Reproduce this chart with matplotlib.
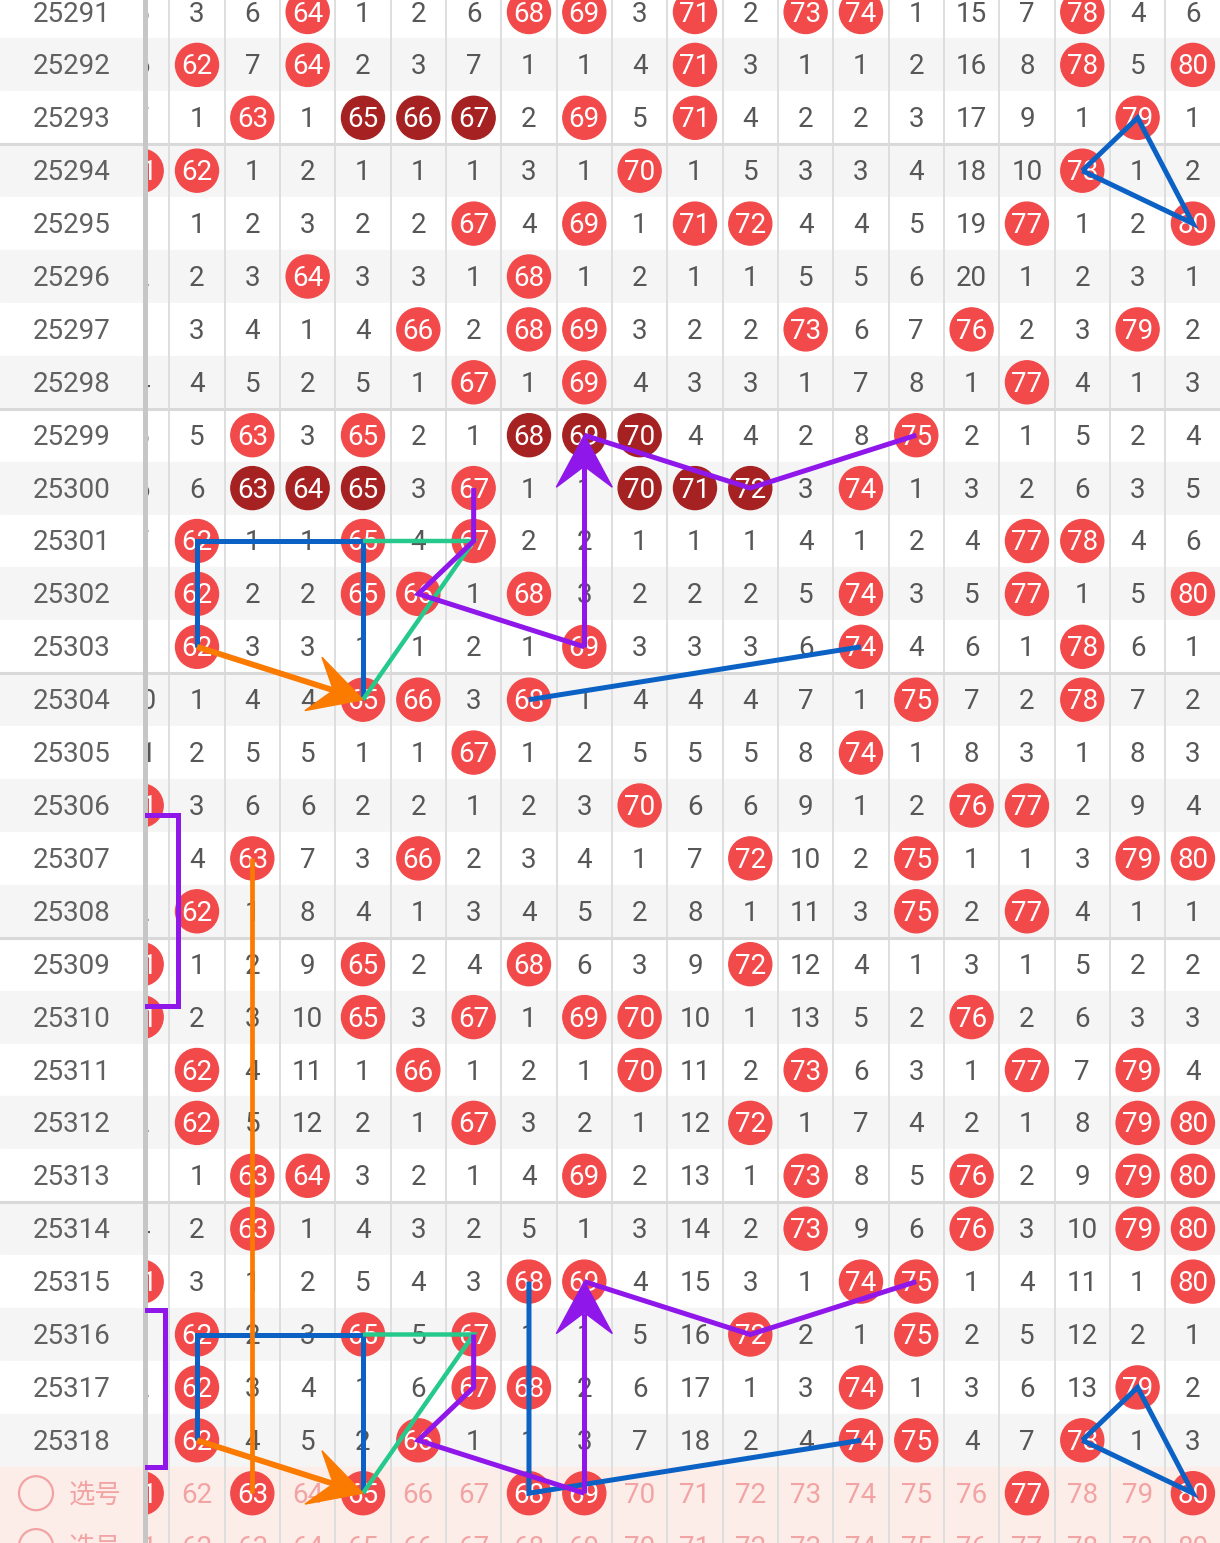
import numpy as np
import matplotlib.pyplot as plt
from matplotlib.patches import Circle, Rectangle, Polygon

plt.rcParams['font.family'] = ['Roboto', 'Noto Sans CJK SC', 'DejaVu Sans']

# ---- data -------------------------------------------------------------
issues = [str(n) for n in range(25291, 25319)]
numbers = list(range(61, 81))
pick_label = "选号"

# omission counts per issue for numbers 61..80, 0 = drawn (red ball)
misses = [
    [5, 3, 6, 0, 1, 2, 6, 0, 0, 3, 0, 2, 0, 0, 1, 15, 7, 0, 4, 6],    # 25291
    [6, 0, 7, 0, 2, 3, 7, 1, 1, 4, 0, 3, 1, 1, 2, 16, 8, 0, 5, 0],    # 25292
    [7, 1, 0, 1, 0, 0, 0, 2, 0, 5, 0, 4, 2, 2, 3, 17, 9, 1, 0, 1],    # 25293
    [0, 0, 1, 2, 1, 1, 1, 3, 1, 0, 1, 5, 3, 3, 4, 18, 10, 0, 1, 2],   # 25294
    [1, 1, 2, 3, 2, 2, 0, 4, 0, 1, 0, 0, 4, 4, 5, 19, 0, 1, 2, 0],    # 25295
    [2, 2, 3, 0, 3, 3, 1, 0, 1, 2, 1, 1, 5, 5, 6, 20, 1, 2, 3, 1],    # 25296
    [3, 3, 4, 1, 4, 0, 2, 0, 0, 3, 2, 2, 0, 6, 7, 0, 2, 3, 0, 2],     # 25297
    [4, 4, 5, 2, 5, 1, 0, 1, 0, 4, 3, 3, 1, 7, 8, 1, 0, 4, 1, 3],     # 25298
    [5, 5, 0, 3, 0, 2, 1, 0, 0, 0, 4, 4, 2, 8, 0, 2, 1, 5, 2, 4],     # 25299
    [6, 6, 0, 0, 0, 3, 0, 1, 1, 0, 0, 0, 3, 0, 1, 3, 2, 6, 3, 5],     # 25300
    [7, 0, 1, 1, 0, 4, 0, 2, 2, 1, 1, 1, 4, 1, 2, 4, 0, 0, 4, 6],     # 25301
    [8, 0, 2, 2, 0, 0, 1, 0, 3, 2, 2, 2, 5, 0, 3, 5, 0, 1, 5, 0],     # 25302
    [9, 0, 3, 3, 1, 1, 2, 1, 0, 3, 3, 3, 6, 0, 4, 6, 1, 0, 6, 1],     # 25303
    [10, 1, 4, 4, 0, 0, 3, 0, 1, 4, 4, 4, 7, 1, 0, 7, 2, 0, 7, 2],    # 25304
    [11, 2, 5, 5, 1, 1, 0, 1, 2, 5, 5, 5, 8, 0, 1, 8, 3, 1, 8, 3],    # 25305
    [0, 3, 6, 6, 2, 2, 1, 2, 3, 0, 6, 6, 9, 1, 2, 0, 0, 2, 9, 4],     # 25306
    [1, 4, 0, 7, 3, 0, 2, 3, 4, 1, 7, 0, 10, 2, 0, 1, 1, 3, 0, 0],    # 25307
    [2, 0, 1, 8, 4, 1, 3, 4, 5, 2, 8, 1, 11, 3, 0, 2, 0, 4, 1, 1],    # 25308
    [0, 1, 2, 9, 0, 2, 4, 0, 6, 3, 9, 0, 12, 4, 1, 3, 1, 5, 2, 2],    # 25309
    [0, 2, 3, 10, 0, 3, 0, 1, 0, 0, 10, 1, 13, 5, 2, 0, 2, 6, 3, 3],  # 25310
    [1, 0, 4, 11, 1, 0, 1, 2, 1, 0, 11, 2, 0, 6, 3, 1, 0, 7, 0, 4],   # 25311
    [2, 0, 5, 12, 2, 1, 0, 3, 2, 1, 12, 0, 1, 7, 4, 2, 1, 8, 0, 0],   # 25312
    [3, 1, 0, 0, 3, 2, 1, 4, 0, 2, 13, 1, 0, 8, 5, 0, 2, 9, 0, 0],    # 25313
    [4, 2, 0, 1, 4, 3, 2, 5, 1, 3, 14, 2, 0, 9, 6, 0, 3, 10, 0, 0],   # 25314
    [0, 3, 1, 2, 5, 4, 3, 0, 0, 4, 15, 3, 1, 0, 0, 1, 4, 11, 1, 0],   # 25315
    [1, 0, 2, 3, 0, 5, 0, 1, 1, 5, 16, 0, 2, 1, 0, 2, 5, 12, 2, 1],   # 25316
    [2, 0, 3, 4, 1, 6, 0, 0, 2, 6, 17, 1, 3, 0, 1, 3, 6, 13, 0, 2],   # 25317
    [3, 0, 4, 5, 2, 0, 1, 1, 3, 7, 18, 2, 4, 0, 0, 4, 7, 0, 1, 3],    # 25318
]

# consecutive-number highlights (dark balls)
dark_balls = [("25293", 65), ("25293", 66), ("25293", 67),
              ("25299", 68), ("25299", 69), ("25299", 70),
              ("25300", 63), ("25300", 64), ("25300", 65),
              ("25300", 70), ("25300", 71), ("25300", 72)]

# numbers selected in the pick row
picks = [61, 63, 65, 68, 69, 77, 80]

# overlay paths, as (issue, number) cells
blue_paths = [
    [("25303", 62), ("25301", 62), ("25301", 65), ("25304", 65)],
    [("25304", 68), ("25303", 74)],
    [("25294", 78), ("25293", 79), ("25295", 80), ("25294", 78)],
    [("25318", 62), ("25316", 62), ("25316", 65), (pick_label, 65)],
    [("25315", 68), (pick_label, 68), ("25318", 74)],
    [("25318", 78), ("25317", 79), (pick_label, 80), ("25318", 78)],
]
green_paths = [
    [("25301", 65), ("25301", 67), ("25304", 65)],
    [("25316", 65), ("25316", 67), (pick_label, 65)],
]
purple_paths = [
    [("25300", 67), ("25301", 67), ("25302", 66), ("25303", 69)],
    [("25299", 69), ("25300", 72), ("25299", 75)],
    [("25316", 67), ("25317", 67), ("25318", 66), (pick_label, 69)],
    [("25315", 69), ("25316", 72), ("25315", 75)],
]
purple_arrows = [(("25303", 69), ("25299", 69)), ((pick_label, 69), ("25315", 69))]
orange_arrows = [(("25303", 62), ("25304", 65)), (("25318", 62), (pick_label, 65))]
orange_lines = [[("25307", 63), (pick_label, 63)]]

# ---- layout -----------------------------------------------------------
W, H = 1220, 1543
X62, DX = 197.0, 55.33
Y0, DY = 12.0, 52.9
LABEL_W = 145
R = 21.5
TY = 2.0  # text baseline nudge

RED = "#f24a4a"
DARK = "#a62222"
BLUE = "#0b62c4"
GREEN = "#25c98c"
PURPLE = "#8f17ea"
ORANGE = "#fb7a00"
PINK_BG = "#fdede8"
PINK_TX = "#f2a3a3"
TXT = "#575757"

rows = issues + [pick_label, pick_label]


def col_x(num):
    return X62 + (num - 62) * DX


def row_y(i):
    return Y0 + i * DY


def cell(c):
    issue, num = c
    return np.array([col_x(num), row_y(rows.index(issue))])


fig = plt.figure(figsize=(W / 100, H / 100), dpi=100)
ax = fig.add_axes([0, 0, 1, 1])
ax.set_xlim(0, W)
ax.set_ylim(H, 0)
ax.axis("off")

# row backgrounds + label column
for i, lab in enumerate(rows):
    y = row_y(i)
    if lab == pick_label:
        bg = PINK_BG
    else:
        bg = "#f5f5f5" if i % 2 == 1 else "white"
    ax.add_patch(Rectangle((0, y - DY / 2), W, DY, color=bg, zorder=0))
    ax.add_patch(Rectangle((0, y - DY / 2), LABEL_W, DY, color=bg, zorder=10))
    if lab == pick_label:
        ax.add_patch(Circle((36, y), 17, fill=False, ec=PINK_TX, lw=1.6, zorder=11))
        ax.text(95, y + TY, lab, ha="center", va="center", fontsize=19,
                color=PINK_TX, family=["Noto Sans CJK SC"], zorder=11)
    else:
        ax.text(72, y + TY, lab, ha="center", va="center", fontsize=20,
                color="#616161", zorder=11)

# column separators
for num in numbers:
    ax.plot([col_x(num) + DX / 2] * 2, [0, H], color="#dedede", lw=1.4, zorder=1)

# group separators every 5 issues (under the overlays, and over the label column)
for i in range(2, len(issues) - 1, 5):
    yb = row_y(i) + DY / 2
    ax.plot([0, W], [yb, yb], color="#d9d9d9", lw=2.2, zorder=1.5)
    ax.plot([0, LABEL_W], [yb, yb], color="#d9d9d9", lw=2.2, zorder=10.5)

# cells
for i, issue in enumerate(issues):
    for num, v in zip(numbers, misses[i]):
        x, y = col_x(num), row_y(i)
        if v == 0:
            fc = DARK if (issue, num) in dark_balls else RED
            ax.add_patch(Circle((x, y), R, color=fc, zorder=2))
            ax.text(x, y + TY, str(num), ha="center", va="center", fontsize=20,
                    color="white", zorder=3)
        else:
            ax.text(x, y + TY, str(v), ha="center", va="center", fontsize=20,
                    color=TXT, zorder=3)

for k in (len(issues), len(issues) + 1):
    y = row_y(k)
    for num in numbers:
        x = col_x(num)
        if k == len(issues) and num in picks:
            ax.add_patch(Circle((x, y), R, color=RED, zorder=2))
            ax.text(x, y + TY, str(num), ha="center", va="center", fontsize=20,
                    color="white", zorder=3)
        else:
            ax.text(x, y + TY, str(num), ha="center", va="center", fontsize=20,
                    color=PINK_TX, zorder=3)


# overlays
def path(cells, color, lw):
    pts = np.array([cell(c) for c in cells])
    ax.plot(pts[:, 0], pts[:, 1], color=color, lw=lw, zorder=6,
            solid_joinstyle="miter", solid_capstyle="butt")


def arrow(a, b, color, lw, head_len=52, head_w=28, notch=31):
    p0, p1 = cell(a), cell(b)
    u = (p1 - p0) / np.linalg.norm(p1 - p0)
    n = np.array([-u[1], u[0]])
    base = p1 - u * head_len
    nt = p1 - u * notch
    ax.plot([p0[0], nt[0]], [p0[1], nt[1]], color=color, lw=lw, zorder=7,
            solid_capstyle="butt")
    ax.add_patch(Polygon([p1, base + n * head_w, nt, base - n * head_w],
                         closed=True, color=color, zorder=7))


for p in blue_paths:
    path(p, BLUE, 3.6)
for p in green_paths:
    path(p, GREEN, 3.2)
for p in purple_paths:
    path(p, PURPLE, 3.6)
for p in orange_lines:
    path(p, ORANGE, 3.4)
for a, b in purple_arrows:
    arrow(a, b, PURPLE, 3.6)
for a, b in orange_arrows:
    arrow(a, b, ORANGE, 4.2)

# frozen column divider
ax.plot([LABEL_W, LABEL_W], [0, H], color="#c6c6c6", lw=3.6, zorder=12)

# purple brackets on the left edge
for top, bot, right in [(815, 1006, 178), (1310, 1467, 165)]:
    ax.plot([LABEL_W + 2, right, right, LABEL_W + 2], [top, top, bot, bot],
            color=PURPLE, lw=3.6, zorder=13, solid_joinstyle="miter")

fig.savefig("out.png", dpi=100)
